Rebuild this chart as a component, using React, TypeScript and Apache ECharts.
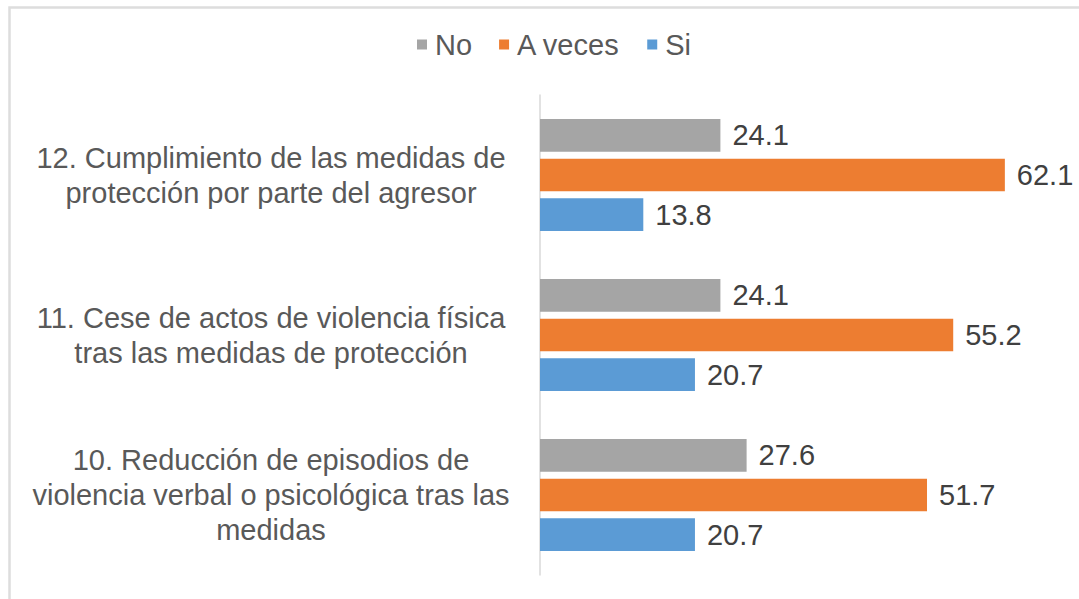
import React, { useEffect, useRef } from "react";
import * as echarts from "echarts";

const categories = [
  "12. Cumplimiento de las medidas de\nprotección por parte del agresor",
  "11. Cese de actos de violencia física\ntras las medidas de protección",
  "10. Reducción de episodios de\nviolencia verbal o psicológica tras las\nmedidas",
];
const seriesNames = ["No", "A veces", "Si"];
const noValues = [24.1, 24.1, 27.6];
const aVecesValues = [62.1, 55.2, 51.7];
const siValues = [13.8, 20.7, 20.7];
const colors = ["#A5A5A5", "#ED7D31", "#5B9BD5"];

const FONT = "'Liberation Sans', Arial, sans-serif";
const TEXT = "#595959";
const FS = 29;

export default function App() {
  const ref = useRef<HTMLDivElement>(null);
  useEffect(() => {
    if (!ref.current) return;
    const chart = echarts.init(ref.current, undefined, { renderer: "svg" });
    const data = [noValues, aVecesValues, siValues];
    chart.setOption({
      animation: false,
      backgroundColor: "#ffffff",
      textStyle: { fontFamily: FONT },
      legend: {
        top: 25,
        left: 412,
        itemWidth: 10,
        itemHeight: 10,
        itemGap: 27,
        icon: "rect",
        data: seriesNames,
        textStyle: { fontSize: FS, color: TEXT, fontFamily: FONT, padding: [0, 0, 0, 3] },
      },
      grid: { left: 540, right: 15, top: 95, bottom: 24, containLabel: false },
      xAxis: {
        type: "value",
        min: 0,
        max: 70,
        show: false,
      },
      yAxis: {
        type: "category",
        inverse: true,
        data: categories,
        axisLine: { show: true, lineStyle: { color: "#D9D9D9", width: 1.5 } },
        axisTick: { show: false },
        axisLabel: {
          align: "center",
          margin: 269,
          fontSize: FS,
          lineHeight: 35,
          color: TEXT,
          fontFamily: FONT,
        },
      },
      series: seriesNames.map((name, i) => ({
        name,
        type: "bar",
        data: data[i],
        itemStyle: { color: colors[i] },
        barCategoryGap: "30%",
        barGap: "21%",
        label: {
          show: true,
          position: "right",
          distance: 12,
          fontSize: FS,
          color: "#404040",
          fontFamily: FONT,
          formatter: (p: any) => p.value.toFixed(1),
        },
      })),
      graphic: [
        {
          type: "rect",
          shape: { x: 9.5, y: 7.5, width: 1200, height: 800 },
          style: { fill: "none", stroke: "#DDDDDD", lineWidth: 2.5 },
          silent: true,
        },
      ],
    });
    return () => chart.dispose();
  }, []);
  return (
    <div
      ref={ref}
      style={{ position: "absolute", left: 0, top: 0, width: 1079, height: 599 }}
    />
  );
}
